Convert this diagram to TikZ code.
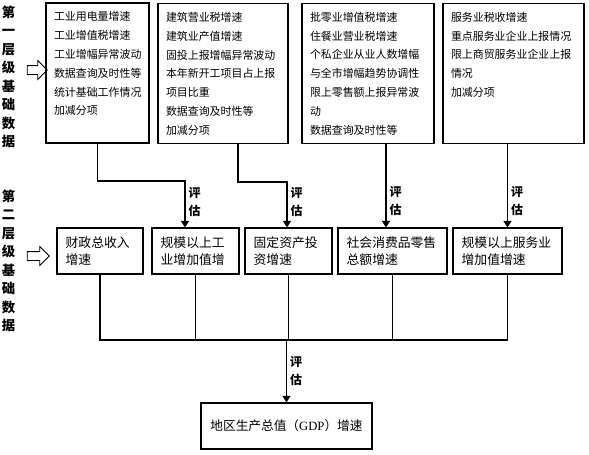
\documentclass[tikz,border=0pt]{standalone}
\usepackage{fontspec}
\newfontfamily\cjk{Noto Sans CJK SC}
\newfontfamily\lat{Liberation Serif}
\usetikzlibrary{positioning,arrows.meta,shapes.arrows}
\newcommand{\itemlist}[2]{\begin{minipage}[c][92pt][t]{#1}\raggedright #2\end{minipage}}

\begin{document}
\begin{tikzpicture}[x=0.75pt, y=-0.75pt,
  >={Triangle[length=5pt,width=6pt]},
  top/.style={rectangle, draw, line width=0.8pt, inner xsep=6pt, inner ysep=6.5pt,
              font=\cjk\fontsize{8.2}{14.1}\selectfont},
  mid/.style={rectangle, draw, line width=0.8pt, align=left, inner xsep=6.5pt,
              minimum height=34.5pt, font=\cjk\fontsize{9.6}{13}\selectfont},
  side/.style={align=center, inner sep=0pt, font=\cjk\bfseries\fontsize{10}{13.9}\selectfont},
  hollow/.style={single arrow, draw, line width=0.6pt, inner sep=3pt,
                 single arrow head extend=3.75pt, minimum height=15pt},
  ln/.style={line width=1.3pt},
  e/.style={->, line width=1.3pt},
  lbl/.style={align=center, inner sep=2pt, font=\cjk\bfseries\fontsize{9}{13.5}\selectfont},
]
\useasboundingbox (0,0) rectangle (589,454);

% first level
\node[side]   (l1) at (8.5,77) {第\\一\\层\\级\\基\\础\\数\\据};
\node[hollow] (a1) at (35,70) {};
\node[top] (t1) at (97.5,73)  {\itemlist{65.25pt}{工业用电量增速\\工业增值税增速\\工业增幅异常波动\\数据查询及时性等\\统计基础工作情况\\加减分项}};
\node[top] (t2) at (223,73.5) {\itemlist{85.5pt}{建筑营业税增速\\建筑业产值增速\\固投上报增幅异常波动\\本年新开工项目占上报\\项目比重\\数据查询及时性等\\加减分项}};
\node[top] (t3) at (368,73.5) {\itemlist{87pt}{批零业增值税增速\\住餐业营业税增速\\个私企业从业人数增幅\\与全市增幅趋势协调性\\限上零售额上报异常波\\动\\数据查询及时性等}};
\node[top] (t4) at (513.5,73.5) {\itemlist{93.75pt}{服务业税收增速\\重点服务业企业上报情况\\限上商贸服务业企业上报\\情况\\加减分项}};

% second level
\node[side]   (l2) at (8.5,261) {第\\二\\层\\级\\基\\础\\数\\据};
\node[hollow, minimum height=16.5pt] (a2) at (36,256) {};
\node[mid, minimum width=64.5pt, text width=51.5pt]  (fz) at (100,251)   {财政总收入\\增速};
\node[mid, minimum width=65.25pt, text width=52.25pt] (gy) at (195.5,251) {规模以上工\\业增加值增};
\node[mid, minimum width=65.25pt, text width=52.25pt] (gd) at (288.5,251) {固定资产投\\资增速};
\node[mid, minimum width=81.75pt, text width=68.75pt] (xf) at (392.5,251) {社会消费品零售\\总额增速};
\node[mid, minimum width=81.75pt, text width=68.75pt] (fw) at (507.5,251) {规模以上服务业\\增加值增速};

% result
\node[mid, align=center, minimum width=128.25pt, font=\cjk\fontsize{9.5}{13}\selectfont]
  (gdp) at (286.5,426) {地区生产总值（{\lat GDP}）增速};

\coordinate (k1) at (185,181);
\coordinate (k2) at (287,182);
\coordinate (bus) at (286.5,340);

\draw[e] (t1.south) |- (k1) -- (k1 |- gy.north) node[lbl,pos=0.45,right]{评\\估};
\draw[e] ([xshift=11.25pt]t2.south) |- (k2) -- (k2 |- gd.north) node[lbl,pos=0.45,right]{评\\估};
\draw[e] ([xshift=13.5pt]t3.south) coordinate (k3) -- (k3 |- xf.north) node[lbl,pos=0.68,right]{评\\估};
\draw[e] (t4.south -| fw.north) -- (fw.north) node[lbl,pos=0.68,right]{评\\估};

% merge into GDP
\draw[ln] (fz.south) |- (bus) -| (fw.south);
\draw[ln] (gy.south) -- (gy.south |- bus);
\draw[ln] (gd.south) -- (gd.south |- bus);
\draw[ln] (xf.south) -- (xf.south |- bus);
\draw[e] (bus) -- (gdp.north) node[lbl,midway,right]{评\\估};
\end{tikzpicture}
\end{document}
